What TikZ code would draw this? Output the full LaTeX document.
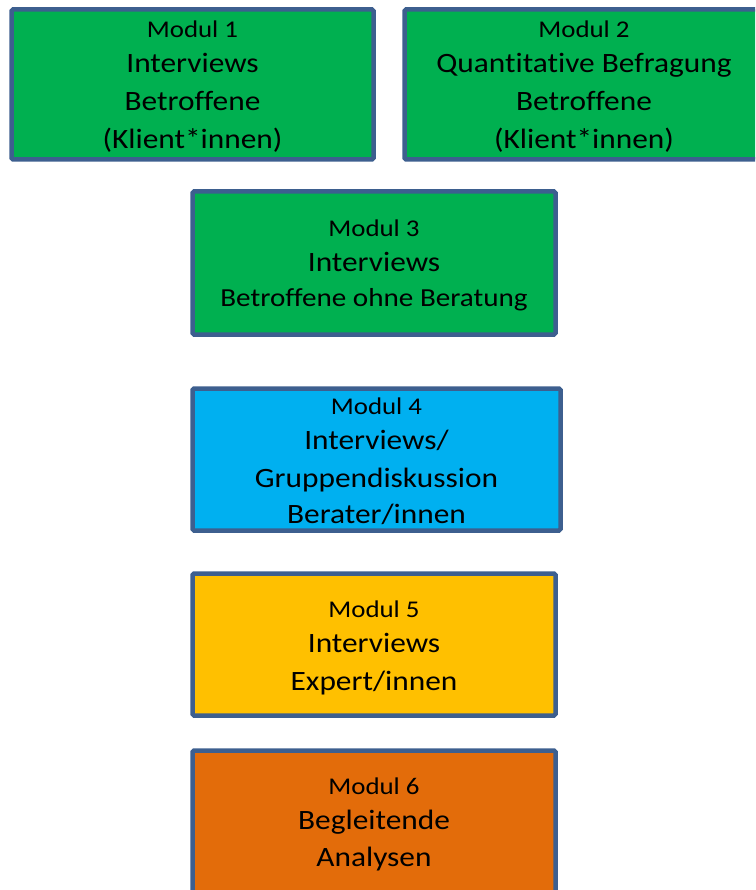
\documentclass[tikz,border=0pt]{standalone}
\usepackage{fontspec}
\setmainfont[FakeStretch=1.12,Ligatures=NoCommon]{Carlito}
\definecolor{edge}{HTML}{3D5F8F}
\definecolor{mgreen}{HTML}{00B050}
\definecolor{mblue}{HTML}{00B0F0}
\definecolor{myellow}{HTML}{FFC000}
\definecolor{morange}{HTML}{E36C0A}
\newcommand{\modl}[1]{{\fontsize{24}{38}\selectfont #1}\\[-3pt]}
\begin{document}
\begin{tikzpicture}[x=1pt,y=-1pt,
  modbox/.style={draw=edge, line width=4.5pt, rounded corners=1.5pt, rectangle, inner sep=0pt, outer sep=0pt},
  modtext/.style={align=center, inner sep=0pt, text=black, font=\fontsize{28}{38}\selectfont},
]
\useasboundingbox (0,0) rectangle (755,890);
\clip (0,0) rectangle (755,890);
\node[modbox, fill=mgreen, minimum width=362, minimum height=150] (m1) at (192.5,84.5) {};
\node[modbox, fill=mgreen, minimum width=359, minimum height=150] (m2) at (584,84.5) {};
\node[modbox, fill=mgreen, minimum width=363, minimum height=143] (m3) at (374,263) {};
\node[modbox, fill=mblue, minimum width=368, minimum height=142] (m4) at (376.5,459.5) {};
\node[modbox, fill=myellow, minimum width=363, minimum height=142] (m5) at (374,644.5) {};
\node[modbox, fill=morange, minimum width=363, minimum height=142] (m6) at (374,821.5) {};
\node[modtext] (t1) at ([yshift=-2pt]m1.center)
  {\modl{Modul 1}Interviews\\Betroffene\\(Klient*innen)};
\node[modtext] (t2) at ([yshift=-2pt]m2.center)
  {\modl{Modul 2}Quantitative Befragung\\Betroffene\\(Klient*innen)};
\node[modtext] (t3) at ([yshift=-2.5pt]m3.center)
  {\modl{Modul 3}Interviews\\[-3pt]{\fontsize{26}{38}\selectfont Betroffene ohne Beratung}};
\node[modtext] (t4) at ([yshift=-2pt]m4.center)
  {\modl{Modul 4}Interviews/\\Gruppendiskussion\\[-2pt]Berater/innen};
\node[modtext] (t5) at ([yshift=-3pt]m5.center)
  {\modl{Modul 5}Interviews\\Expert/innen};
\node[modtext] (t6) at ([yshift=-2.5pt]m6.center)
  {\modl{Modul 6}Begleitende\\[-1pt]Analysen};
\end{tikzpicture}
\end{document}
